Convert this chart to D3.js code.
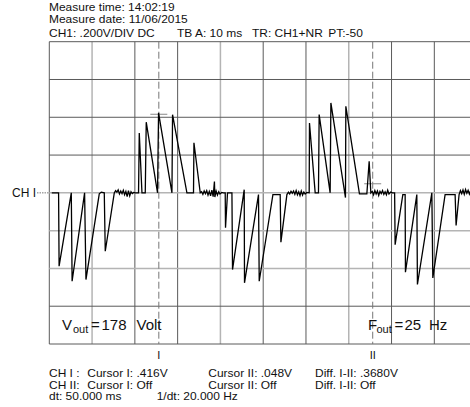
<!DOCTYPE html>
<html>
<head>
<meta charset="utf-8">
<script src="https://cdn.jsdelivr.net/npm/d3@7"></script>
<style>
	body{margin:0;padding:0;background:#ffffff;}
	#scopewrap text{font-family:"Liberation Sans", Arial, Helvetica, sans-serif;fill:#111;}
</style>
</head>
<body>
<div id="scopewrap"></div>
<script>
//header and footer readouts
var headerLines = ["Measure time: 14:02:19", "Measure date: 11/06/2015"];
var settingsLabels = ["CH1: .200V/DIV DC", "TB A: 10 ms", "TR: CH1+NR", "PT:-50"];
var footerRow1 = ["CH I :", "Cursor I: .416V", "Cursor II: .048V", "Diff. I-II: .3680V"];
var footerRow2 = ["CH II:", "Cursor I: Off", "Cursor II: Off", "Diff. I-II: Off"];
var footerRow3 = ["dt: 50.000 ms", "1/dt: 20.000 Hz"];

//grid divisions: 10 ms / div and 0.2 V / div
var timeTicks = [0, 10, 20, 30, 40, 50, 60, 70, 80, 90, 100];
var voltTicks = [-0.8, -0.6, -0.4, -0.2, 0, 0.2, 0.4, 0.6, 0.8];

//cursors (ms, V)
var cursorNames = ["I", "II"];
var cursorTimes = [25.6, 75.6];
var cursorVolts = [0.416, 0.048];

//trace (ms)
var traceMs = [
	0.58, 2.17, 2.29, 5.14, 5.33, 8.25, 8.57, 11.68, 12.15, 12.85, 13.08, 15.19,
	15.5, 15.8, 16.1, 16.4, 16.7, 17.0, 17.3, 17.6, 17.9, 18.2, 18.5, 18.8, 19.1, 19.4, 19.7, 20.1,
	20.86, 21.03, 21.66, 22.43, 22.66, 25.30, 25.54, 28.67, 28.81, 32.17, 33.71, 33.81, 35.28,
	35.6, 35.9, 36.2, 36.5, 36.8, 37.1, 37.4, 37.7, 38.0, 38.3, 38.6, 38.7, 39.0, 39.3, 39.6, 39.9, 40.3, 40.7,
	41.12, 41.19, 41.66, 42.69, 42.83, 45.56, 45.63, 48.90, 49.07, 52.27, 53.97, 54.14, 55.54,
	55.9, 56.2, 56.5, 56.8, 57.1, 57.4, 57.7, 58.0, 58.3, 58.6, 58.9, 59.2, 59.5, 59.8, 60.2,
	60.75, 60.82, 62.15, 62.92, 63.08, 65.65, 65.82, 69.23, 69.32, 72.50, 74.23, 74.77, 75.16,
	75.5, 75.8, 76.1, 76.4, 76.7, 77.0, 77.3, 77.6, 77.9, 78.2, 78.5, 78.8, 79.1, 79.4, 79.8, 80.2,
	80.72, 80.84, 82.64, 83.18, 83.25, 85.91, 86.05, 89.42, 89.65, 92.52, 94.86, 95.09, 95.79,
	96.1, 96.4, 96.7, 97.0, 97.3, 97.6, 97.9, 98.2, 98.5, 98.8
];
//trace (V)
var traceV = [
	0, 0, -0.388, 0, -0.468, 0, -0.459, -0.005, 0.004, 0, -0.309, 0,
	0.012, 0.004, 0.016, -0.006, 0.010, -0.004, 0.014, -0.010, 0.008, -0.020, 0.012, -0.016, 0.006, -0.004, 0.002, 0,
	0, 0.317, 0, 0, 0.374, 0, 0.423, 0, 0.414, 0, 0, 0.265, 0,
	0.006, -0.008, 0.010, -0.004, 0.012, -0.012, 0.008, -0.016, 0.014, -0.020, 0.060, -0.022, 0.010, -0.012, 0.006, -0.006, 0.002, 0,
	0, -0.185, 0, 0, -0.406, 0.017, -0.476, -0.009, -0.468, -0.009, -0.009, -0.261, -0.009,
	0.004, -0.006, 0.008, -0.002, 0.010, -0.008, 0.012, -0.010, 0.006, -0.014, 0.010, -0.012, 0.004, -0.006, 0.002,
	0, 0.370, 0, 0, 0.414, 0, 0.476, -0.025, 0.458, -0.005, -0.005, 0.167, 0,
	0.008, -0.010, 0.012, -0.006, 0.010, -0.014, 0.008, -0.004, 0.012, -0.008, 0.006, -0.010, 0.014, -0.006, 0.004, 0,
	0, -0.274, -0.009, -0.009, -0.420, -0.009, -0.485, 0, -0.450, -0.009, -0.009, -0.173, -0.009,
	0.012, -0.004, 0.016, -0.008, 0.018, -0.002, 0.014, -0.006, 0.012, 0.004
];

//value annotations inside the screen
var vOut = ["V", "out", "=", "178", "Volt"];
var fOut = ["F", "out", "=", "25", "Hz"];

(function(){

	var dom = {};
	var W = 470, H = 407;

	dom.wrap = d3.select("#scopewrap");
	dom.svg = dom.wrap.append("svg").attr("width", W).attr("height", H)
		.style("display", "block");

	//screen geometry
	var x = d3.scaleLinear().domain([0, 100]).range([49.3, 477.1]);
	var y = d3.scaleLinear().domain([-0.8, 0.8]).range([344, 41.7]);

	//lighter grid lines (as they come out on the printout)
	var lightT = [10, 40, 70];
	var lightV = [0, -0.2, -0.4];

	//grid
	var grid = dom.svg.append("g");
	grid.selectAll("line.v").data(timeTicks).enter().append("line")
		.attr("x1", function(d){return x(d)}).attr("x2", function(d){return x(d)})
		.attr("y1", y(0.8)).attr("y2", y(-0.8))
		.attr("stroke", function(d){return lightT.indexOf(d) > -1 ? "#b4b4b4" : "#5a5a5a"})
		.attr("stroke-width", function(d){return lightT.indexOf(d) > -1 ? 1.5 : 1});
	grid.selectAll("line.h").data(voltTicks).enter().append("line")
		.attr("x1", x(0)).attr("x2", x(100))
		.attr("y1", function(d){return y(d)}).attr("y2", function(d){return y(d)})
		.attr("stroke", function(d){return lightV.indexOf(d) > -1 ? "#b4b4b4" : "#5a5a5a"})
		.attr("stroke-width", function(d){return lightV.indexOf(d) > -1 ? 1.5 : 1});

	//channel marker on the left
	dom.svg.append("text").attr("x", 36).attr("y", y(0) + 4.3)
		.attr("text-anchor", "end").style("font-size", "12px").text("CH I");
	dom.svg.append("line").attr("x1", 37).attr("x2", x(0)).attr("y1", y(0)).attr("y2", y(0))
		.attr("stroke", "#777").attr("stroke-dasharray", "1.5,1");

	//cursors
	var cur = dom.svg.append("g");
	cur.selectAll("line.cv").data(cursorTimes).enter().append("line")
		.attr("x1", function(d){return x(d)}).attr("x2", function(d){return x(d)})
		.attr("y1", y(0.8)).attr("y2", y(-0.8))
		.attr("stroke", "#777").attr("stroke-width", 1).attr("stroke-dasharray", "7,3");
	cur.selectAll("line.ch").data(cursorTimes).enter().append("line")
		.attr("x1", function(d){return x(d) - 8.5}).attr("x2", function(d){return x(d) + 8.5})
		.attr("y1", function(d, i){return y(cursorVolts[i])})
		.attr("y2", function(d, i){return y(cursorVolts[i])})
		.attr("stroke", "#888").attr("stroke-width", 1);
	cur.selectAll("text").data(cursorNames).enter().append("text")
		.attr("x", function(d, i){return x(cursorTimes[i])})
		.attr("y", 358.5).attr("text-anchor", "middle")
		.style("font-size", "11px").text(function(d){return d});

	//trace
	var pts = traceMs.map(function(t, i){return [t, traceV[i]]});
	var line = d3.line().x(function(d){return x(d[0])}).y(function(d){return y(d[1])});
	dom.svg.append("path").datum(pts).attr("d", line)
		.attr("fill", "none").attr("stroke", "#000").attr("stroke-width", 1.3)
		.attr("stroke-linejoin", "miter");

	//Vout / Fout labels: letter, subscript, equals, number, unit
	function bigLabel(parts, xs, py){
		var t = dom.svg.append("text").attr("y", py).style("font-size", "15px");
		t.selectAll("tspan").data(parts).enter().append("tspan")
			.attr("x", function(d, i){return xs[i]})
			.attr("y", function(d, i){return i === 1 ? py + 3 : py})
			.style("font-size", function(d, i){return i === 1 ? "11px" : null})
			.text(function(d){return d});
	}
	bigLabel(vOut, [62, 73, 91, 101.5, 136.5], 329.5);
	bigLabel(fOut, [368, 376.5, 394.5, 404.5, 429], 329.5);

	//readout text: the printout font is wide, so a smaller size is stretched sideways
	var SX = 1.14;
	function readoutRow(labels, xs, py){
		var g = dom.svg.append("g").attr("transform", "scale(" + SX + ",1)")
			.style("font-size", "10.5px");
		g.selectAll("text").data(labels).enter().append("text")
			.attr("x", function(d, i){return xs[i] / SX}).attr("y", py)
			.text(function(d){return d});
	}

	//header
	readoutRow(headerLines.slice(0, 1), [49], 11.2);
	readoutRow(headerLines.slice(1), [49], 23);
	readoutRow(settingsLabels, [49, 177, 252, 328.3], 36.6);

	//footer
	readoutRow(footerRow1, [49, 87.3, 208.3, 315], 376.8);
	readoutRow(footerRow2, [49, 87.3, 208.3, 315], 388.6);
	readoutRow(footerRow3, [49, 156.7], 400.4);

})();
</script>
</body>
</html>
